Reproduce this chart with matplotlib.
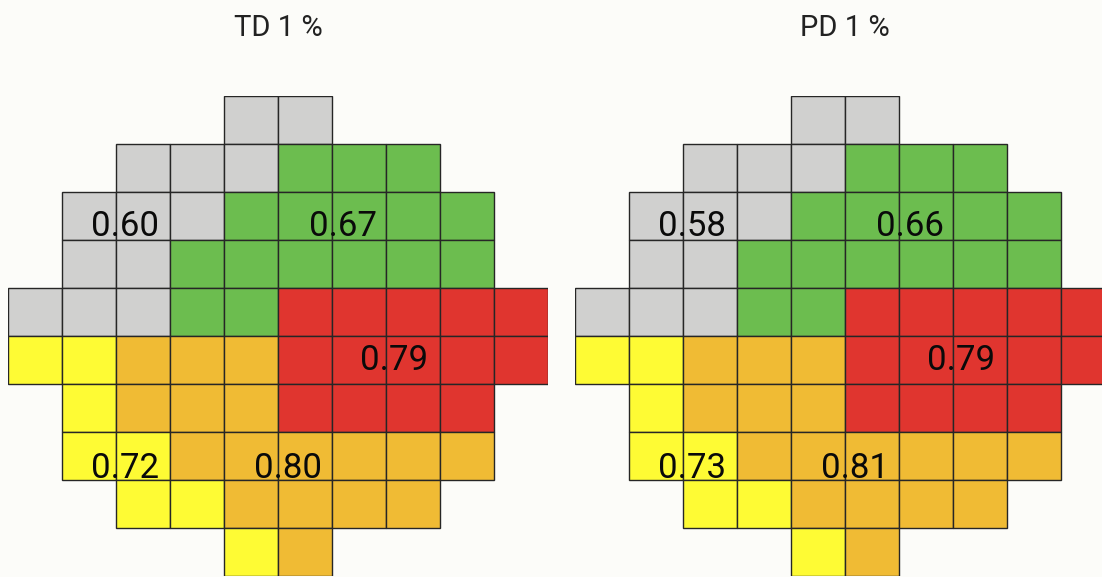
import matplotlib
matplotlib.use("Agg")
import matplotlib.pyplot as plt
from matplotlib.patches import Rectangle

# ---- data ----
titles = ["TD 1 %", "PD 1 %"]
# region map of the visual-field grid (top row first); '.' = no test point
region_map = [
    "....GG....",
    "..GGGNNN..",
    ".GGGNNNNN.",
    ".GGNNNNNN.",
    "GGGNNRRRRR",
    "YYOOORRRRR",
    ".YOOORRRR.",
    ".YYOOOOOO.",
    "..YYOOOO..",
    "....YO....",
]
regions = ["G", "N", "R", "Y", "O"]
td_values = [0.60, 0.67, 0.79, 0.72, 0.80]
pd_values = [0.58, 0.66, 0.79, 0.73, 0.81]
panel_values = [td_values, pd_values]

# ---- style / layout ----
region_colors = {"G": "#d0d0cf", "N": "#6cbd4f", "R": "#e0352f",
                 "Y": "#fefb34", "O": "#f0bb34"}
label_anchor = {"G": (2.17, 2.72), "N": (6.2, 2.72), "R": (7.15, 5.5),
                "Y": (2.17, 7.76), "O": (5.18, 7.76)}
bg = "#fcfcf9"

W, H = 1102, 577
fig = plt.figure(figsize=(W / 100, H / 100), dpi=100, facecolor=bg)

panel_left_px = [8, 575]
cell_w, cell_h = 54, 48
top_px = 96
nrows = len(region_map)
ncols = len(region_map[0])

for p, (title, vals) in enumerate(zip(titles, panel_values)):
    lx = panel_left_px[p]
    ax = fig.add_axes([lx / W, (H - top_px - nrows * cell_h) / H,
                       ncols * cell_w / W, nrows * cell_h / H])
    ax.set_xlim(0, ncols)
    ax.set_ylim(nrows, 0)
    ax.axis("off")
    ax.patch.set_alpha(0)
    for r, row in enumerate(region_map):
        for c, code in enumerate(row):
            if code == ".":
                continue
            ax.add_patch(Rectangle((c, r), 1, 1, facecolor=region_colors[code],
                                   edgecolor="#262626", linewidth=1.0))
    for code, v in zip(regions, vals):
        x, y = label_anchor[code]
        ax.text(x, y, f"{v:.2f}", ha="center", va="center", fontsize=25,
                family=["Roboto", "DejaVu Sans"], color="#0a0a0a")
    fig.text((lx + ncols * cell_w / 2) / W, 1 - 28 / H, title, ha="center",
             va="center", fontsize=21, family=["Roboto", "DejaVu Sans"],
             color="#222222")

fig.savefig("out.png", dpi=100, facecolor=bg)
